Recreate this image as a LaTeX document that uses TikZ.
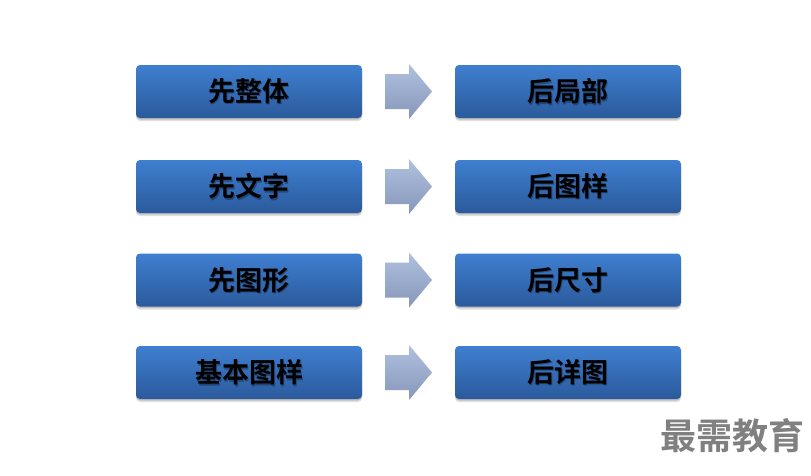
\documentclass[tikz,border=0pt]{standalone}
\usepackage{fontspec}
\newfontfamily\cjk{Noto Sans CJK SC Bold}
\usetikzlibrary{shadows}
\definecolor{btop}{HTML}{3F7FD0}
\definecolor{bbot}{HTML}{2B5A9C}
\definecolor{atop}{HTML}{B0C0DE}
\definecolor{abot}{HTML}{8797BA}
\tikzset{
  box/.style={rounded corners=4pt, minimum width=226pt, minimum height=53pt,
    top color=btop, bottom color=bbot, draw=none, inner sep=0pt,
    drop shadow={shadow xshift=0pt, shadow yshift=-3pt, opacity=0.12, fill=black},
    drop shadow={shadow xshift=0pt, shadow yshift=-1.5pt, opacity=0.15, fill=black}},
  txt/.style={font=\cjk\fontsize{27}{27}\selectfont, text=black, inner sep=0pt},
  txtsh/.style={txt, text=black, opacity=0.3},
  arrfill/.style={top color=atop, bottom color=abot, draw=none},
  wmark/.style={font=\cjk\fontsize{36}{36}\selectfont, text=black!50, inner sep=0pt}
}
\newcommand{\rowitem}[4]{%
  \node[box] (L#1) at (249,#2) {};
  \node[txtsh] at ([shift={(1.2pt,-1.2pt)}]L#1.center) {#3};
  \node[txt] (LT#1) at (L#1.center) {#3};
  \coordinate (A#1) at (408.5,#2);
  \path[arrfill] ([shift={(-23.5,-17.5)}]A#1) -- ([shift={(0.5,-17.5)}]A#1)
    -- ([shift={(0.5,-27.5)}]A#1) -- ([shift={(23.5,0)}]A#1)
    -- ([shift={(0.5,27.5)}]A#1) -- ([shift={(0.5,17.5)}]A#1)
    -- ([shift={(-23.5,17.5)}]A#1) -- cycle;
  \node[box] (R#1) at (568,#2) {};
  \node[txtsh] at ([shift={(1.2pt,-1.2pt)}]R#1.center) {#4};
  \node[txt] (RT#1) at (R#1.center) {#4};
}
\begin{document}
\begin{tikzpicture}[x=1pt,y=-1pt]
\useasboundingbox[fill=white] (0,0) rectangle (811,475);
\rowitem{1}{91.5}{先整体}{后局部}
\rowitem{2}{186.5}{先文字}{后图样}
\rowitem{3}{280}{先图形}{后尺寸}
\rowitem{4}{372.5}{基本图样}{后详图}
\node[wmark] (wm) at (732,436) {最需教育};
\end{tikzpicture}
\end{document}
